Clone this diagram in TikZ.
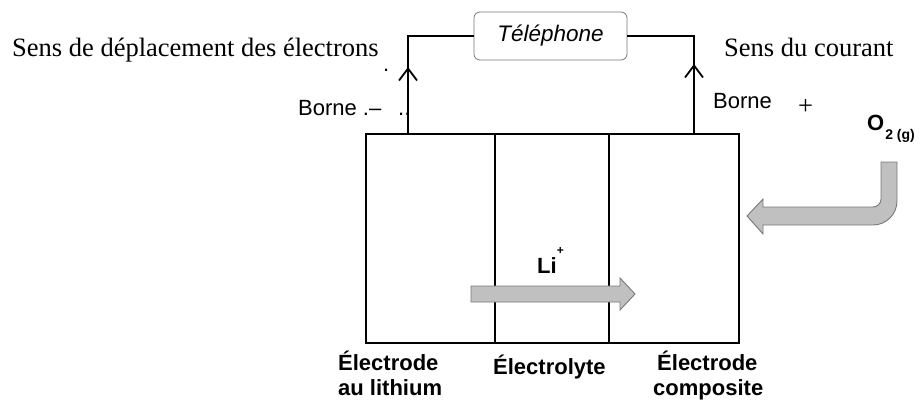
\documentclass[tikz,border=0pt]{standalone}
\usepackage{fontspec}
\setmainfont{Liberation Serif}
\newfontfamily\arialfont{Liberation Sans}
\usetikzlibrary{arrows.meta}
\definecolor{arrowfill}{RGB}{192,192,192}
\definecolor{arrowline}{RGB}{120,120,120}
\begin{document}
\begin{tikzpicture}[x=1pt,y=-1pt,
  wire/.style={line width=2pt, black},
  barb/.style={line width=2pt, black, -{Straight Barb[length=12pt,width=18pt,line width=1.8pt]}},
  cellbox/.style={draw, line width=2pt, minimum height=209pt, inner sep=0pt, anchor=north west},
  blockarrow/.style={fill=arrowfill, draw=arrowline, line width=0.9pt, line join=miter},
  serif/.style={inner sep=0pt, anchor=base west, font=\fontsize{26.5}{30}\selectfont},
  arial/.style={inner sep=0pt, anchor=base west, font=\arialfont\fontsize{22}{25}\selectfont},
  arialb/.style={inner sep=0pt, anchor=base west, font=\arialfont\bfseries\fontsize{22}{25}\selectfont}]
\useasboundingbox (0,0) rectangle (920,401);

% cell compartments
\node[cellbox, minimum width=129pt] (lith) at (365,133) {};
\node[cellbox, minimum width=114pt] (elec) at (494,133) {};
\node[cellbox, minimum width=130pt] (comp) at (608,133) {};

% telephone
\node[draw=arrowline, line width=0.8pt, rounded corners=6pt, minimum width=153pt,
      minimum height=48pt, inner sep=0pt,
      font=\arialfont\itshape\fontsize{22.5}{26}\selectfont] (tel) at (550.5,36) {Téléphone};

% wires
\coordinate (lw) at (408,133);
\coordinate (rw) at (694,133);
\draw[wire] (lw) |- (tel.west);
\draw[wire] (rw) |- (tel.east);
\coordinate (la1) at (408,100);
\coordinate (la2) at (408,67);
\coordinate (ra1) at (694,100);
\coordinate (ra2) at (694,64);
\draw[barb] (la1) -- (la2);
\draw[barb] (ra1) -- (ra2);

% Li+ arrow
\draw[blockarrow] (471,286) -- (620,286) -- (620,278) -- (635,294) -- (620,310)
  -- (620,302) -- (471,302) -- cycle;

% O2 bent arrow
\draw[blockarrow] (881,162) -- (897,162) -- (897,201) arc (0:90:24) -- (763,225)
  -- (763,234) -- (747,216) -- (763,199) -- (763,207) -- (873,207) arc (90:0:8) -- cycle;

% texts
\node[serif] (sde) at (12,57) {Sens de déplacement des électrons};
\node[serif] (sdc) at (724,57) {Sens du courant};
\node[arial] (bm) at (298,116) {Borne .–};
\node[arial] (dd) at (398,116) {..};
\node[arial] (d1) at (383,72) {.};
\node[arial] (bp) at (713,109) {Borne};
\node[serif] (plus) at (798,114) {+};
\node[arialb] (o2) at (867,131) {O\hspace{1pt}{\fontsize{14}{16}\selectfont\raisebox{-9pt}{2 (g)}}};
\node[arialb] (lip) at (537,273) {Li{\fontsize{12}{14}\selectfont\raisebox{18.5pt}{+}}};
\node[arialb] (l1a) at (338,370) {Électrode};
\node[arialb] (l1b) at (338,395) {au lithium};
\node[arialb] (l2) at (493,374) {Électrolyte};
\node[arialb] (l3a) at (657,370) {Électrode};
\node[arialb] (l3b) at (653,395) {composite};
\end{tikzpicture}
\end{document}
